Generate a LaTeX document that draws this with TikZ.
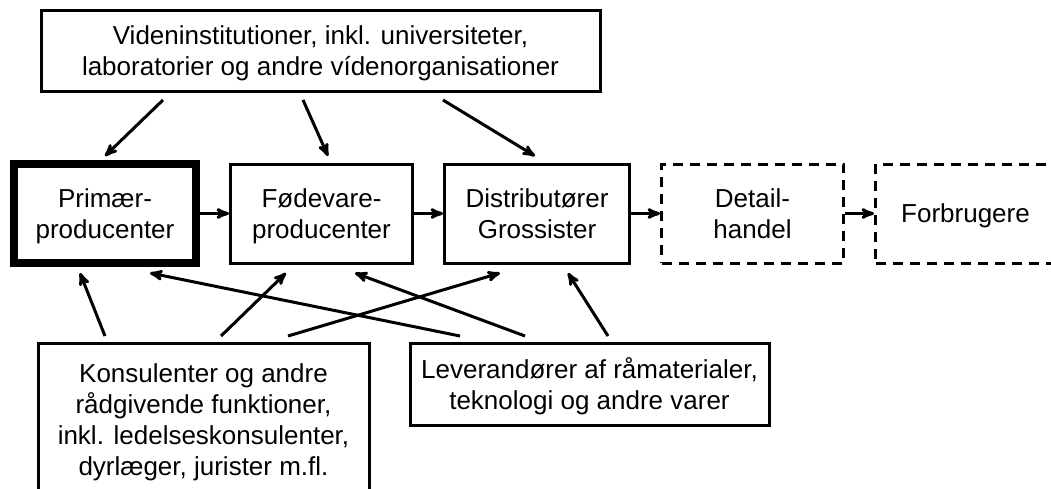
\documentclass[tikz,border=0pt]{standalone}
\usepackage{fontspec}
\setmainfont{Liberation Sans}
\usetikzlibrary{arrows, chains, positioning}
\tikzset{
>=stealth',
  boks/.style={
    rectangle,
    draw=black, line width=3pt,
    inner sep=0pt,
    align=center,
    text depth=0pt,
    font=\fontsize{26}{31}\selectfont},
  kasse/.style={
    boks,
    minimum width=182pt,
    minimum height=99pt,
    on chain},
  tykkasse/.style={kasse, line width=8pt},
  stiplet/.style={kasse, dash pattern=on 10pt off 7pt},
  pil/.style={draw, line width=3pt, ->},
  every join/.style={->, line width=3pt},
}
\begin{document}
\begin{tikzpicture}[x=1pt, y=-1pt, node distance=29pt, start chain=going right]
     \useasboundingbox (0,0) rectangle (1051,488);
     \node[boks, minimum width=559pt, minimum height=81pt] (vid) at (320.5,50.5)
          {Videninstitutioner, inkl. universiteter,\\laboratorier og andre vídenorganisationer};
     \node[tykkasse, at={(105,213.5)}] (prim) {Primær-\\producenter};
     \node[kasse, join] (fod) {Fødevare-\\producenter};
     \node[kasse, join, minimum width=185pt] (dis) {Distributører\\Grossister};
     \node[stiplet, join] (det) {Detail-\\handel};
     \node[stiplet, join, minimum width=180pt] (forb) {Forbrugere};
     \node[boks, minimum width=331pt, minimum height=153pt] (kons) at (203.5,419.5)
          {Konsulenter og andre\\rådgivende funktioner,\\inkl. ledelseskonsulenter,\\dyrlæger, jurister m.fl.};
     \node[boks, minimum width=359pt, minimum height=82pt] (lev) at (589.5,384)
          {Leverandører af råmaterialer,\\teknologi og andre varer};
     % viden ned til leddene
     \draw[pil] ([xshift=-157.5pt,yshift=-7.5pt]vid.south) -- ([yshift=4pt]prim.north);
     \draw[pil] ([xshift=-17.5pt,yshift=-7.5pt]vid.south) -- ([xshift=6.5pt,yshift=6.5pt]fod.north);
     \draw[pil] ([xshift=122.5pt,yshift=-7.5pt]vid.south) -- ([xshift=-2pt,yshift=6.5pt]dis.north);
     % konsulenter og leverandoerer op
     \draw[pil] ([xshift=-98.5pt,yshift=5.5pt]kons.north) -- ([xshift=-25pt,yshift=-6pt]prim.south);
     \draw[pil] ([xshift=17.5pt,yshift=5.5pt]kons.north) -- ([xshift=-35.5pt,yshift=-8.5pt]fod.south);
     \draw[pil] ([xshift=84.5pt,yshift=5.5pt]kons.north) -- ([xshift=-37pt,yshift=-8.5pt]dis.south);
     \draw[pil] ([xshift=-129.5pt,yshift=5.5pt]lev.north) -- ([xshift=45pt,yshift=-6pt]prim.south);
     \draw[pil] ([xshift=-64.5pt,yshift=5.5pt]lev.north) -- ([xshift=33.5pt,yshift=-8.5pt]fod.south);
     \draw[pil] ([xshift=18.5pt,yshift=5.5pt]lev.north) -- ([xshift=31pt,yshift=-8.5pt]dis.south);
\end{tikzpicture}
\end{document}
